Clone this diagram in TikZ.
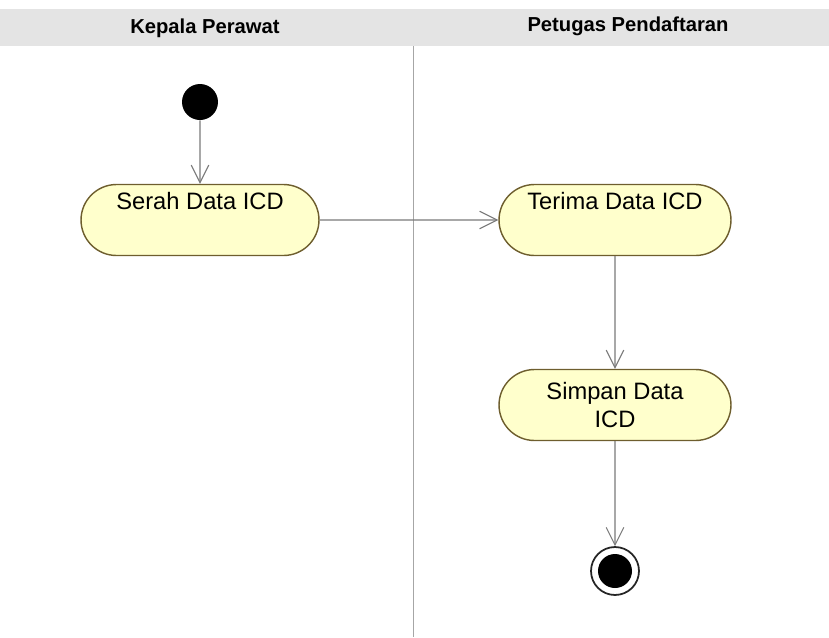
\documentclass[tikz,border=0pt]{standalone}
\usepackage{fontspec}
\setmainfont{Liberation Sans}
\usetikzlibrary{shapes.misc,arrows.meta}
\definecolor{actfill}{HTML}{FFFFCC}
\definecolor{actdraw}{HTML}{6E5E2E}
\definecolor{flowgray}{HTML}{7A7A7A}
\definecolor{headgray}{HTML}{E4E4E4}

\begin{document}
\begin{tikzpicture}[x=0.02cm,y=-0.02cm,
    activity/.style={rounded rectangle,draw=actdraw,fill=actfill,line width=0.8pt,minimum width=4.64cm,minimum height=1.42cm,inner sep=0pt,font=\actfontsize,align=center},
    toptext/.style={text height=10pt,text depth=22pt},
    flow/.style={draw=flowgray,line width=0.6pt,-{Straight Barb[length=10pt,width=10pt]}},
    lane/.style={font=\lanefontsize\bfseries}]
    \pgfmathsetmacro{\picwidth}{829}
    \pgfmathsetmacro{\picheight}{637}
    \pgfmathsetmacro{\lanesplit}{413}
    \providecommand{\actfontsize}{\fontsize{13.5pt}{16.4pt}\selectfont}
    \providecommand{\lanefontsize}{\fontsize{11.5pt}{13pt}\selectfont}
    \useasboundingbox (0,0) rectangle (\picwidth,\picheight);
    % swimlane header
    \fill[headgray] (0,9) rectangle (\picwidth,46);
    \node[lane] (laneKepala) at (205,28) {Kepala Perawat};
    \node[lane] (lanePetugas) at (628,26) {Petugas Pendaftaran};
    \draw[gray!70,line width=0.5pt] (\lanesplit,46) -- (\lanesplit,\picheight);
    % activities
    \node[circle,fill=black,minimum size=0.72cm,inner sep=0pt] (start) at (200,102) {};
    \node[activity,toptext,minimum width=4.76cm] (serah) at (200,220) {Serah Data ICD};
    \node[activity,toptext] (terima) at (615,220) {Terima Data ICD};
    \node[activity] (simpan) at (615,405) {Simpan Data\\ICD};
    \node[circle,draw=black!85,fill=white,line width=1pt,minimum size=0.96cm,inner sep=0pt] (end) at (615,571) {};
    \node[circle,fill=black,minimum size=0.68cm,inner sep=0pt] (endDot) at (end) {};
    % flows
    \draw[flow] (start) -- (serah);
    \draw[flow] (serah) -- (terima);
    \draw[flow] (terima) -- (simpan);
    \draw[flow] (simpan) -- (end);
\end{tikzpicture}
\end{document}
